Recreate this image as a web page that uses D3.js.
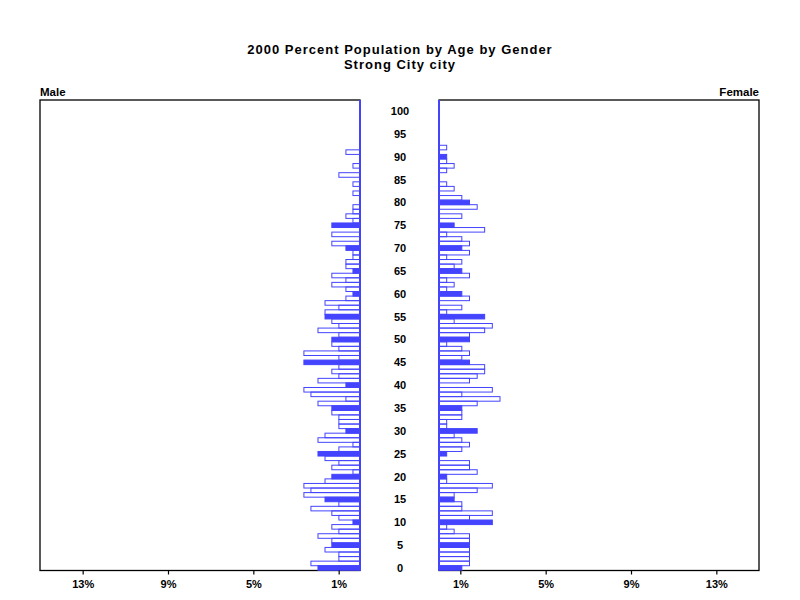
<!DOCTYPE html>
<html>
<head>
<meta charset="utf-8">
<script src="https://cdn.jsdelivr.net/npm/d3@7"></script>
<style>
  html, body { margin: 0; padding: 0; background: #fff; }
  text { font-family: "Liberation Sans", Arial, sans-serif; fill: #000; }
</style>
</head>
<body>
<svg id="chart" width="800" height="600"></svg>
<script>
// ---- data (percent of each gender's population, by single year of age 0..100) ----
const ages = d3.range(0, 101);
const malePct = [
  1.97, 2.30, 0.99, 0.99, 1.64, 1.32, 1.32, 1.97, 0.99, 1.32,
  0.33, 0.99, 1.32, 2.30, 0.99, 1.64, 2.63, 2.30, 2.63, 1.64,
  1.32, 0.33, 1.32, 0.99, 1.64, 1.97, 0.99, 0.33, 1.97, 1.64,
  0.66, 0.99, 0.99, 0.99, 1.32, 1.32, 1.97, 0.66, 2.30, 2.63,
  0.66, 1.97, 0.99, 1.32, 0.99, 2.63, 0.99, 2.63, 0.99, 1.32,
  1.32, 0.99, 1.97, 0.99, 1.32, 1.64, 1.64, 0.99, 1.64, 0.66,
  0.33, 0.66, 1.32, 0.66, 1.32, 0.33, 0.66, 0.66, 0.33, 0.33,
  0.66, 1.32, 0.00, 1.32, 0.00, 1.32, 0.33, 0.66, 0.33, 0.33,
  0.00, 0.00, 0.33, 0.00, 0.33, 0.00, 0.99, 0.00, 0.33, 0.00,
  0.00, 0.66, 0.00, 0.00, 0.00, 0.00, 0.00, 0.00, 0.00, 0.00,
  0.00
];
const femalePct = [
  1.07, 1.43, 1.43, 1.43, 1.43, 1.43, 1.43, 1.43, 0.71, 0.36,
  2.50, 1.43, 2.50, 1.07, 1.07, 0.71, 0.71, 1.79, 2.50, 0.36,
  0.36, 1.79, 1.43, 1.43, 0.00, 0.36, 1.07, 1.43, 1.07, 0.71,
  1.79, 0.36, 0.36, 1.07, 1.07, 1.07, 1.79, 2.86, 1.07, 2.50,
  0.00, 1.43, 1.79, 2.14, 2.14, 1.43, 1.07, 1.43, 1.07, 0.36,
  1.43, 1.43, 2.14, 2.50, 0.71, 2.14, 0.36, 1.07, 0.00, 1.43,
  1.07, 0.36, 0.71, 0.36, 1.43, 1.07, 0.71, 1.07, 0.36, 1.43,
  1.07, 1.43, 1.07, 0.36, 2.14, 0.71, 0.00, 1.07, 0.00, 1.79,
  1.43, 1.07, 0.00, 0.71, 0.36, 0.00, 0.00, 0.36, 0.71, 0.36,
  0.36, 0.00, 0.36, 0.00, 0.00, 0.00, 0.00, 0.00, 0.00, 0.00,
  0.00
];
const xTicks = [1, 5, 9, 13];
const ageLabels = d3.range(0, 101, 5);
const titleLines = ["2000 Percent Population by Age by Gender", "Strong City city"];
const panelLabels = ["Male", "Female"];

// ---- layout ----
const blue = "#4444ff";
const svg = d3.select("#chart");
const plotTop = 100, plotBottom = 570.5;
const xMale = d3.scaleLinear().domain([0, 15]).range([360, 40]);
const xFemale = d3.scaleLinear().domain([0, 15]).range([439, 759]);
const yAge = d3.scaleLinear().domain([0, 100]).range([568, 111]);
const step = Math.abs(yAge(1) - yAge(0));

// title
svg.append("text").attr("x", 400).attr("y", 54).attr("text-anchor", "middle")
  .style("font-size", "13px").style("font-weight", "bold").style("letter-spacing", "1px")
  .text(titleLines[0]);
svg.append("text").attr("x", 400).attr("y", 69).attr("text-anchor", "middle")
  .style("font-size", "13px").style("font-weight", "bold").style("letter-spacing", "1px")
  .text(titleLines[1]);

// panel labels
svg.append("text").attr("x", 40).attr("y", 96).attr("text-anchor", "start")
  .style("font-size", "11.5px").style("font-weight", "bold").text(panelLabels[0]);
svg.append("text").attr("x", 759).attr("y", 96).attr("text-anchor", "end")
  .style("font-size", "11.5px").style("font-weight", "bold").text(panelLabels[1]);

function panel(x, values) {
  const g = svg.append("g");
  const x0 = x(0), x1 = x(15);
  // frame
  g.append("rect")
    .attr("x", Math.min(x0, x1)).attr("y", plotTop)
    .attr("width", Math.abs(x1 - x0)).attr("height", plotBottom - plotTop)
    .attr("fill", "none").attr("stroke", "#000").attr("stroke-width", 1.3);
  // bars
  const data = ages.map((a, i) => ({ age: a, v: values[i] })).filter(d => d.v > 0);
  g.selectAll("rect.bar").data(data).enter().append("rect")
    .attr("class", "bar")
    .attr("x", d => Math.min(x(0), x(d.v)))
    .attr("y", d => yAge(d.age) - step / 2)
    .attr("width", d => Math.abs(x(d.v) - x(0)))
    .attr("height", step)
    .attr("fill", d => d.age % 5 === 0 ? blue : "none")
    .attr("stroke", blue)
    .attr("stroke-width", 1);
  // zero line
  g.append("line").attr("x1", x0).attr("x2", x0).attr("y1", plotTop).attr("y2", plotBottom)
    .attr("stroke", blue).attr("stroke-width", 2);
  // axis
  const axis = d3.axisBottom(x).tickValues(xTicks).tickFormat(d => d + "%").tickSize(4).tickSizeOuter(0);
  const ag = g.append("g").attr("transform", `translate(0,${plotBottom})`).call(axis);
  ag.select(".domain").remove();
  ag.selectAll(".tick line").attr("stroke", "#000").attr("stroke-width", 1.2);
  ag.selectAll(".tick text").attr("y", 10)
    .style("font-size", "11px").style("font-weight", "bold")
    .style("font-family", "'Liberation Sans', Arial, sans-serif").attr("fill", "#000");
}
panel(xMale, malePct);
panel(xFemale, femalePct);

// age labels
svg.append("g").selectAll("text").data(ageLabels).enter().append("text")
  .attr("x", 400).attr("y", d => yAge(d)).attr("dy", "0.36em")
  .attr("text-anchor", "middle")
  .style("font-size", "11px").style("font-weight", "bold")
  .text(d => d);
</script>
</body>
</html>
